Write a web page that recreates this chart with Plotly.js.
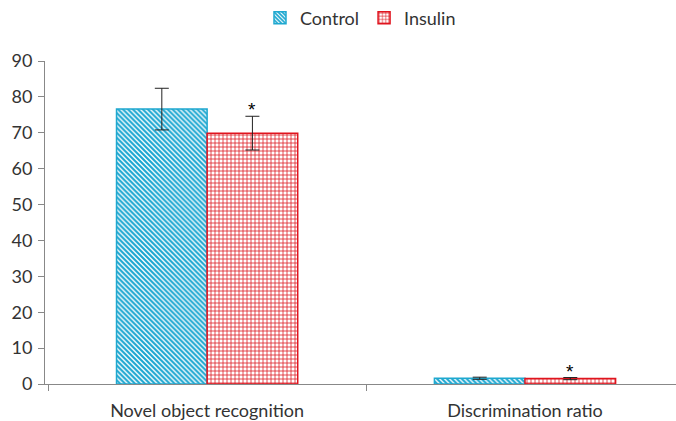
<!DOCTYPE html>
<html><head><meta charset="utf-8">
<script src="https://cdn.plot.ly/plotly-3.0.1.min.js"></script>
<style>body{margin:0;background:#fff}#c{width:676px;height:421px}</style>
</head><body><div id="c"></div>
<script>
var categories = ["Novel object recognition", "Discrimination ratio"];
var controlValues = [76.6, 1.6];
var controlErrors = [5.8, 0.3];
var insulinValues = [69.9, 1.5];
var insulinErrors = [4.7, 0.3];
var sigLabels = ["*", "*"];

var font = {family: "Lato, Open Sans, sans-serif", size: 18, color: "#333"};

var traces = [
  {type: "bar", name: "Control", x: categories, y: controlValues,
   error_y: {type: "data", array: controlErrors, visible: true, color: "#222", thickness: 1, width: 7},
   marker: {color: "#ffffff", line: {color: "#1fa8cf", width: 1.5},
            pattern: {shape: "\\", fgcolor: "#1aa6d0", bgcolor: "#ffffff", size: 3.5, solidity: 0.6}}},
  {type: "bar", name: "Insulin", x: categories, y: insulinValues,
   error_y: {type: "data", array: insulinErrors, visible: true, color: "#222", thickness: 1, width: 7},
   marker: {color: "#ffffff", line: {color: "#e0141e", width: 1.5},
            pattern: {shape: "+", fgcolor: "#dc1820", bgcolor: "#ffffff", size: 4, solidity: 0.35}}}
];

var annotations = categories.map(function(c, i){
  return {x: c, y: insulinValues[i] + insulinErrors[i], text: sigLabels[i], showarrow: false,
          xref: "x", yref: "y", xshift: 45, yanchor: "bottom", yshift: -6,
          font: {family: "Liberation Sans, sans-serif", size: 19, color: "#000"}};
});

var layout = {
  width: 676, height: 421,
  margin: {l: 45, r: 0, t: 61, b: 37, autoexpand: false},
  paper_bgcolor: "#fff", plot_bgcolor: "#fff",
  font: font,
  barmode: "group", bargap: 0.43, bargroupgap: 0,
  showlegend: true,
  legend: {orientation: "h", x: 0.50, xanchor: "center", xref: "paper", y: 1.19, yanchor: "top",
           font: font, itemwidth: 30, tracegroupgap: 0},
  xaxis: {type: "category", range: [-0.51, 1.475], showline: true, linecolor: "#888", linewidth: 1,
          ticks: "outside", tickson: "boundaries", ticklen: 6, tickcolor: "#888",
          ticklabelstandoff: 10,
          showgrid: false, zeroline: false, tickfont: font},
  yaxis: {range: [0, 90], dtick: 10, showline: true, linecolor: "#888", linewidth: 1,
          ticks: "outside", ticklen: 6, tickcolor: "#888", showgrid: false, zeroline: false,
          ticklabelstandoff: 2, tickfont: font},
  annotations: annotations
};

Plotly.newPlot("c", traces, layout, {displayModeBar: false, staticPlot: true});
</script></body></html>
